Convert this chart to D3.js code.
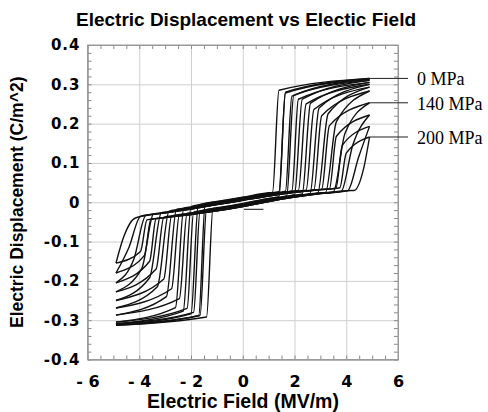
<!DOCTYPE html>
<html>
<head>
<meta charset="utf-8">
<script src="https://cdn.jsdelivr.net/npm/d3@7"></script>
<style>
  body { margin: 0; background: #fff; }
  svg text { font-family: Arial, "Liberation Sans", Helvetica, sans-serif; }
  .tick text { font-family: "DejaVu Sans", Arial, sans-serif; font-weight: bold; fill: #000; }
  .grid line { stroke: #cfcfcf; }
  .minor line { stroke: #8a8a8a; }
  .domain { stroke: #9a9a9a; }
</style>
</head>
<body>
<svg class="chart" width="488" height="412"></svg>
<script>
// one loop per applied stress (MPa)
var stresses = [0, 20, 40, 60, 80, 100, 120, 140, 160, 180, 200];
var fieldMax = 4.9;

// D at the field extremes (C/m^2)
var endTop    = [0.315, 0.313, 0.310, 0.305, 0.300, 0.293, 0.283, 0.253, 0.222, 0.193, 0.166];
var endBottom = [-0.313, -0.311, -0.309, -0.305, -0.287, -0.269, -0.250, -0.228, -0.205, -0.180, -0.155];

// positive field, E going up: [E foot, D foot, E knee, D knee]
var riseRight = [
  [1.40, 0.014, 1.65, 0.280],
  [1.70, 0.017, 1.97, 0.272],
  [2.00, 0.019, 2.30, 0.262],
  [2.30, 0.021, 2.62, 0.252],
  [2.60, 0.022, 2.95, 0.240],
  [2.90, 0.024, 3.30, 0.225],
  [3.20, 0.025, 3.62, 0.205],
  [3.50, 0.026, 3.95, 0.175],
  [3.80, 0.027, 4.25, 0.145],
  [4.05, 0.029, 4.48, 0.115],
  [4.30, 0.030, 4.68, 0.088]
];
// positive field, E coming down: [E foot, D foot, E knee, D knee]
var fallRight = [
  [1.15, 0.025, 1.40, 0.285],
  [1.40, 0.027, 1.65, 0.278],
  [1.65, 0.028, 1.90, 0.270],
  [1.90, 0.029, 2.15, 0.262],
  [2.15, 0.030, 2.45, 0.250],
  [2.45, 0.031, 2.75, 0.236],
  [2.75, 0.032, 3.05, 0.220],
  [3.05, 0.033, 3.35, 0.195],
  [3.35, 0.034, 3.62, 0.168],
  [3.60, 0.036, 3.85, 0.145],
  [3.75, 0.037, 4.00, 0.125]
];
// negative field, E going down: [E knee, D knee, E foot, D foot]
var fallLeft = [
  [-1.70, -0.288, -1.45, -0.003],
  [-2.00, -0.284, -1.72, -0.007],
  [-2.30, -0.277, -2.00, -0.011],
  [-2.60, -0.268, -2.28, -0.015],
  [-2.95, -0.240, -2.56, -0.018],
  [-3.30, -0.215, -2.85, -0.023],
  [-3.60, -0.192, -3.15, -0.027],
  [-3.90, -0.168, -3.45, -0.030],
  [-4.20, -0.143, -3.75, -0.034],
  [-4.40, -0.115, -3.95, -0.036],
  [-4.60, -0.088, -4.15, -0.040]
];
// negative field, E coming back up: [E knee, D knee, E foot, D foot]
var riseLeft = [
  [-1.40, -0.292, -1.15, -0.015],
  [-1.65, -0.288, -1.40, -0.019],
  [-1.90, -0.280, -1.65, -0.022],
  [-2.15, -0.270, -1.90, -0.025],
  [-2.45, -0.245, -2.15, -0.028],
  [-2.75, -0.220, -2.45, -0.032],
  [-3.05, -0.195, -2.75, -0.035],
  [-3.35, -0.170, -3.05, -0.038],
  [-3.60, -0.150, -3.35, -0.042],
  [-3.80, -0.135, -3.55, -0.044],
  [-3.95, -0.125, -3.70, -0.045]
];

// low-field linear band
var bandField   = [-4.2, -3, -2, -1, 0, 1, 2, 3, 4.2];
var bandRising  = [-0.046, -0.039, -0.031, -0.022, -0.011, 0.002, 0.013, 0.022, 0.030];
var bandFalling = [-0.038, -0.027, -0.017, -0.006, 0.005, 0.016, 0.025, 0.032, 0.038];
var bandShift   = [0.008, 0.007, 0.006, 0.005, 0.004, 0.003, 0.002, 0.001, 0, 0, 0];

// short starting segment near the origin
var initField = [0.05, 0.8];
var initD = [-0.018, -0.018];

var labelText = ['0 MPa', '140 MPa', '200 MPa'];
var labelLoop = [0, 7, 10];

var xTicks = [-6, -4, -2, 0, 2, 4, 6];
var yTicks = [-0.4, -0.3, -0.2, -0.1, 0, 0.1, 0.2, 0.3, 0.4];

var plotLeft = 87.5, plotRight = 398, plotTop = 45, plotBottom = 359.5;
var width = plotRight - plotLeft, height = plotBottom - plotTop;

var svg = d3.select(".chart");

var x = d3.scaleLinear().domain([-6, 6]).range([plotLeft, plotRight]);
var y = d3.scaleLinear().domain([-0.4, 0.4]).range([plotBottom, plotTop]);

// grid + tick labels
svg.append("g")
    .attr("class", "grid xaxis")
    .attr("transform", "translate(0," + plotBottom + ")")
    .call(d3.axisBottom(x).tickValues(xTicks).tickSize(-height).tickSizeOuter(0).tickPadding(16)
      .tickFormat(function(d) { return d < 0 ? "- " + Math.abs(d) : String(d); }));

svg.append("g")
    .attr("class", "grid yaxis")
    .attr("transform", "translate(" + plotLeft + ",0)")
    .call(d3.axisLeft(y).tickValues(yTicks).tickSize(-width).tickSizeOuter(0).tickPadding(7)
      .tickFormat(function(d) { return d === 0 ? "0" : (d < 0 ? "-" : "") + Math.abs(d).toFixed(1); }));

svg.selectAll(".xaxis .tick text").style("font-size", "16px");
svg.selectAll(".yaxis .tick text").style("font-size", "15px").style("letter-spacing", "1px");

// minor ticks pointing inward on all four sides
var xMinor = d3.range(-6, 6.01, 0.5);
var yMinor = d3.range(-0.4, 0.401, 0.02);

svg.append("g").attr("class", "minor")
    .attr("transform", "translate(0," + plotBottom + ")")
    .call(d3.axisBottom(x).tickValues(xMinor).tickSize(-4).tickSizeOuter(0).tickFormat(""));
svg.append("g").attr("class", "minor")
    .attr("transform", "translate(0," + plotTop + ")")
    .call(d3.axisTop(x).tickValues(xMinor).tickSize(-4).tickSizeOuter(0).tickFormat(""));
svg.append("g").attr("class", "minor")
    .attr("transform", "translate(" + plotLeft + ",0)")
    .call(d3.axisLeft(y).tickValues(yMinor).tickSize(-4).tickSizeOuter(0).tickFormat(""));
svg.append("g").attr("class", "minor")
    .attr("transform", "translate(" + plotRight + ",0)")
    .call(d3.axisRight(y).tickValues(yMinor).tickSize(-4).tickSizeOuter(0).tickFormat(""));

// frame
svg.append("rect")
    .attr("x", plotLeft).attr("y", plotTop)
    .attr("width", width).attr("height", height)
    .attr("fill", "none").attr("stroke", "#9a9a9a");

// build the two branches of each loop (both in increasing E for monotoneX)
function branch(i, leftPart, rightPart, band) {
  var pts = [[-fieldMax, endBottom[i]]];
  pts.push([leftPart[0], leftPart[1]]);
  pts.push([leftPart[2], leftPart[3]]);
  var lo = leftPart[2], hi = rightPart[0];
  bandField.forEach(function(e, k) {
    if (e > lo + 0.05 && e < hi - 0.05) pts.push([e, band[k] + bandShift[i]]);
  });
  pts.push([rightPart[0], rightPart[1]]);
  pts.push([rightPart[2], rightPart[3]]);
  pts.push([fieldMax, endTop[i]]);
  return pts;
}

var loops = [];
stresses.forEach(function(s, i) {
  loops.push({ stress: s, pts: branch(i, riseLeft[i], riseRight[i], bandRising) });
  loops.push({ stress: s, pts: branch(i, fallLeft[i], fallRight[i], bandFalling) });
});

var line = d3.line()
    .x(function(d) { return x(d[0]); })
    .y(function(d) { return y(d[1]); })
    .curve(d3.curveMonotoneX);

svg.append("g").selectAll("path.loop")
    .data(loops)
  .enter().append("path")
    .attr("class", "loop")
    .attr("d", function(d) { return line(d.pts); })
    .attr("fill", "none")
    .attr("stroke", "#111")
    .attr("stroke-width", 1.4);

svg.append("path")
    .attr("d", line(initField.map(function(e, k) { return [e, initD[k]]; })))
    .attr("fill", "none").attr("stroke", "#222").attr("stroke-width", 1.1);

// stress labels with leaders
var labels = svg.append("g").selectAll("g.label")
    .data(labelText)
  .enter().append("g");

labels.append("line")
    .attr("x1", x(fieldMax)).attr("x2", 408)
    .attr("y1", function(d, i) { return y(endTop[labelLoop[i]]); })
    .attr("y2", function(d, i) { return y(endTop[labelLoop[i]]); })
    .attr("stroke", "#222").attr("stroke-width", 1);

labels.append("text")
    .attr("x", 417)
    .attr("y", function(d, i) { return y(endTop[labelLoop[i]]) + 7; })
    .style("font-family", "'Liberation Serif', 'Times New Roman', serif")
    .style("font-size", "18px")
    .text(function(d) { return d; });

// titles
svg.append("text")
    .attr("x", 246).attr("y", 26)
    .attr("text-anchor", "middle")
    .style("font-weight", "bold").style("font-size", "19px")
    .text("Electric Displacement vs Electic Field");

svg.append("text")
    .attr("x", 243).attr("y", 408)
    .attr("text-anchor", "middle")
    .style("font-weight", "bold").style("font-size", "19.5px")
    .text("Electric Field (MV/m)");

svg.append("text")
    .attr("transform", "translate(23," + ((plotTop + plotBottom) / 2) + ") rotate(-90)")
    .attr("text-anchor", "middle")
    .style("font-weight", "bold").style("font-size", "17.5px")
    .text("Electric Displacement (C/m^2)");
</script>
</body>
</html>
